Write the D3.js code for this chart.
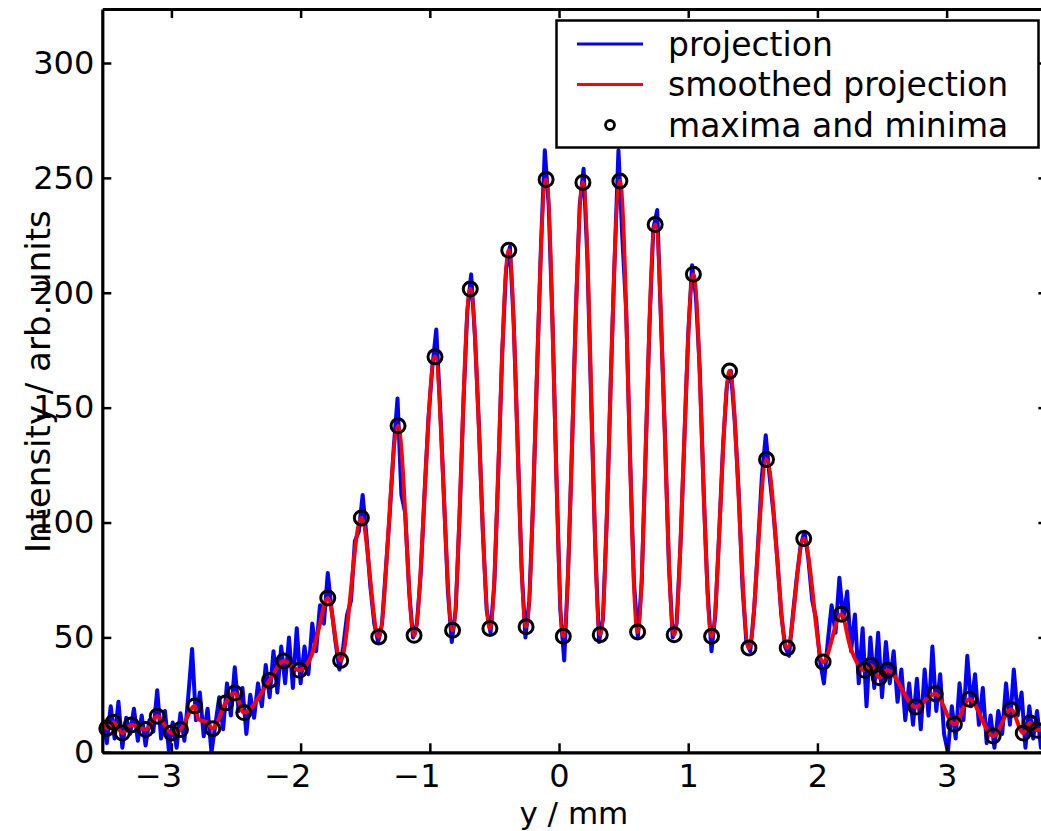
<!DOCTYPE html>
<html>
<head>
<meta charset="utf-8">
<script src="https://cdn.jsdelivr.net/npm/d3@7"></script>
<style>
  html, body { margin: 0; padding: 0; background: #fff; }
  svg { display: block; }
  text { font-family: "DejaVu Sans", sans-serif; fill: #000; }
</style>
</head>
<body>
<svg id="chart" width="1041" height="831"></svg>
<script>
// ________ data ________
// raw projection, one sample every 0.03 mm starting at -3.53 mm
const projStart = -3.53;
const projStep = 0.03;
const projection = [
	14, 4, 20, 6, 22, 2, 15, 8, 19, 5,
	16, 3, 14, 9, 27, 6, 18, 1, 13, 2,
	17, 5, 24, 45, 14, 26, 7, 19, 0, 12,
	24, 10, 30, 16, 37, 18, 28, 8, 25, 15,
	30, 20, 38, 24, 44, 26, 46, 30, 50, 28,
	54, 30, 46, 34, 56, 44, 64, 56, 78, 62,
	48, 36, 46, 60, 66, 92, 96, 112, 94, 72,
	56, 48, 56, 80, 104, 132, 154, 112, 104, 70,
	50, 56, 78, 114, 146, 168, 184, 150, 110, 70,
	48, 62, 102, 152, 192, 208, 180, 142, 96, 62,
	52, 74, 122, 174, 210, 220, 186, 134, 80, 50,
	66, 110, 166, 220, 262, 238, 186, 120, 62, 40,
	78, 132, 192, 238, 254, 214, 150, 90, 48, 58,
	102, 162, 214, 262, 224, 192, 128, 74, 50, 74,
	130, 186, 228, 236, 186, 138, 82, 50, 56, 90,
	136, 182, 212, 198, 166, 112, 70, 44, 60, 96,
	134, 160, 166, 144, 114, 72, 48, 44, 62, 90,
	120, 138, 120, 104, 84, 60, 46, 42, 60, 76,
	90, 96, 84, 66, 58, 40, 30, 48, 64, 52,
	76, 58, 70, 44, 60, 30, 54, 20, 50, 28,
	52, 24, 48, 30, 44, 22, 36, 14, 30, 12,
	32, 10, 36, 16, 46, 18, 34, 8, 0, 20,
	6, 30, 14, 42, 20, 34, 12, 28, 4, 16,
	2, 18, 8, 30, 12, 36, 16, 26, 2, 20,
	6, 18, 2, 14
];

// smoothed projection (key points of the red curve)
const smoothX = [-3.54, -3.50, -3.45, -3.38, -3.31, -3.20, -3.11, -3.00, -2.93, -2.82,
	-2.79, -2.72, -2.68, -2.58, -2.51, -2.44, -2.24, -2.13, -2.01, -1.915,
	-1.863, -1.79, -1.69, -1.53, -1.395, -1.246, -1.122, -0.960, -0.824, -0.687,
	-0.535, -0.389, -0.255, -0.100, 0.033, 0.185, 0.319, 0.471, 0.608, 0.744,
	0.891, 1.040, 1.181, 1.320, 1.470, 1.606, 1.766, 1.894, 2.044, 2.185,
	2.255, 2.365, 2.414, 2.479, 2.543, 2.762, 2.911, 3.06, 3.176, 3.36,
	3.498, 3.593, 3.645, 3.70, 3.78];
const smoothY = [15.4, 10.4, 13.1, 8.4, 11.9, 9.9, 15.7, 8.4, 9.9, 20.2,
	14.3, 13.0, 10.3, 21.5, 25.8, 17.3, 31.3, 39.7, 35.7, 42.2,
	53.0, 67.2, 40.0, 102.0, 50.2, 142.1, 50.9, 172.1, 53.1, 201.6,
	53.9, 218.5, 54.6, 249.3, 50.5, 248.0, 51.2, 248.6, 52.4, 229.7,
	51.2, 208.1, 50.5, 165.9, 45.4, 127.4, 45.4, 93.0, 39.3, 60.1,
	45.8, 35.7, 37.9, 32.5, 35.7, 19.7, 25.5, 12.2, 23.1, 7.1,
	18.6, 8.4, 12.8, 9.6, 11.0];

// maxima and minima of the smoothed projection
const extremaX = [-3.50, -3.45, -3.38, -3.31, -3.20, -3.11, -3.00, -2.93, -2.82, -2.68,
	-2.58, -2.51, -2.44, -2.24, -2.13, -2.01, -1.79, -1.69, -1.53, -1.395,
	-1.246, -1.122, -0.960, -0.824, -0.687, -0.535, -0.389, -0.255, -0.100, 0.033,
	0.185, 0.319, 0.471, 0.608, 0.744, 0.891, 1.040, 1.181, 1.320, 1.470,
	1.606, 1.766, 1.894, 2.044, 2.185, 2.365, 2.414, 2.479, 2.543, 2.762,
	2.911, 3.06, 3.176, 3.36, 3.498, 3.593, 3.645, 3.70];
const extremaY = [10.4, 13.1, 8.4, 11.9, 9.9, 15.7, 8.4, 9.9, 20.2, 10.3,
	21.5, 25.8, 17.3, 31.3, 39.7, 35.7, 67.2, 40.0, 102.0, 50.2,
	142.1, 50.9, 172.1, 53.1, 201.6, 53.9, 218.5, 54.6, 249.3, 50.5,
	248.0, 51.2, 248.6, 52.4, 229.7, 51.2, 208.1, 50.5, 165.9, 45.4,
	127.4, 45.4, 93.0, 39.3, 60.1, 35.7, 37.9, 32.5, 35.7, 19.7,
	25.5, 12.2, 23.1, 7.1, 18.6, 8.4, 12.8, 9.6];

const xTicks = [-3, -2, -1, 0, 1, 2, 3];
const yTicks = [0, 50, 100, 150, 200, 250, 300];
const legendLabels = ['projection', 'smoothed projection', 'maxima and minima'];

// ________ scales ________
const x = d3.scaleLinear().domain([-3.535, 3.78]).range([102.3, 1047.4]);
const y = d3.scaleLinear().domain([0, 323.5]).range([752.3, 9]);
const [x0, x1] = x.range();
const [y0, y1] = [y.range()[1], y.range()[0]];

const svg = d3.select('#chart');
svg.append('defs').append('clipPath')
	.attr('id', 'plot-clip')
	.append('rect')
	.attr('x', x0).attr('y', y0)
	.attr('width', x1 - x0).attr('height', y1 - y0);

// ________ marks ________
const plot = svg.append('g').attr('clip-path', 'url(#plot-clip)');

const projData = projection.map((v, i) => [projStart + i * projStep, v]);
plot.append('path')
	.datum(projData)
	.attr('d', d3.line().x(d => x(d[0])).y(d => y(d[1])))
	.attr('fill', 'none')
	.attr('stroke', '#0000ff')
	.attr('stroke-width', 4)
	.attr('stroke-linejoin', 'round');

const smoothData = smoothX.map((v, i) => [v, smoothY[i]]);
plot.append('path')
	.datum(smoothData)
	.attr('d', d3.line().x(d => x(d[0])).y(d => y(d[1])).curve(d3.curveMonotoneX))
	.attr('fill', 'none')
	.attr('stroke', '#ff0000')
	.attr('stroke-width', 4)
	.attr('stroke-linejoin', 'round');

svg.append('g')
	.selectAll('circle')
	.data(extremaX.map((v, i) => [v, extremaY[i]]))
	.join('circle')
	.attr('cx', d => x(d[0]))
	.attr('cy', d => y(d[1]))
	.attr('r', 7)
	.attr('fill', 'none')
	.attr('stroke', '#000')
	.attr('stroke-width', 3);

// ________ axes ________
const styleAxis = g => {
	g.select('.domain').attr('stroke-width', 3.2);
	g.selectAll('.tick line').attr('stroke-width', 2.5);
	g.selectAll('.tick text').attr('font-size', 32).attr('font-family', '"DejaVu Sans", sans-serif').attr('fill', '#000');
};

// digits centred on the tick, a minus sign hangs to the left (as in the original)
svg.append('g')
	.attr('transform', `translate(0,${y1})`)
	.call(d3.axisBottom(x).tickValues(xTicks).tickSize(-9).tickSizeOuter(0)
		.tickFormat(d => (d < 0 ? '\u2212' : '') + Math.abs(d)))
	.call(styleAxis)
	.call(g => g.selectAll('.tick text')
		.attr('text-anchor', 'end')
		.attr('x', 10.2)
		.attr('y', 35)
		.attr('dy', null));

svg.append('g')
	.attr('transform', `translate(0,${y0})`)
	.call(d3.axisTop(x).tickValues(xTicks).tickSize(-9).tickSizeOuter(0).tickFormat(''))
	.call(styleAxis);

svg.append('g')
	.attr('transform', `translate(${x0},0)`)
	.call(d3.axisLeft(y).tickValues(yTicks).tickSize(-9).tickSizeOuter(0).tickPadding(8))
	.call(styleAxis);

svg.append('g')
	.attr('transform', `translate(${x1},0)`)
	.call(d3.axisRight(y).tickValues(yTicks).tickSize(-9).tickSizeOuter(0).tickFormat(''))
	.call(styleAxis);

svg.append('text')
	.attr('x', (x0 + x1) / 2 - 1)
	.attr('y', 823.5)
	.attr('text-anchor', 'middle')
	.attr('font-size', 31)
	.text('y / mm');

svg.append('text')
	.attr('transform', `translate(50,${(y0 + y1) / 2 + 1}) rotate(-90)`)
	.attr('text-anchor', 'middle')
	.attr('font-size', 34)
	.text('Intensity / arb. units');

// ________ legend ________
const legend = svg.append('g');
legend.append('rect')
	.attr('x', 556.5).attr('y', 20.5)
	.attr('width', 482).attr('height', 127)
	.attr('fill', '#fff')
	.attr('stroke', '#000')
	.attr('stroke-width', 2.5);

const rows = legend.selectAll('g.row')
	.data(legendLabels)
	.join('g')
	.attr('class', 'row')
	.attr('transform', (d, i) => `translate(0,${44 + i * 40.5})`);

rows.filter((d, i) => i < 2)
	.append('line')
	.attr('x1', 577).attr('x2', 643)
	.attr('stroke', (d, i) => i === 0 ? '#0000ff' : '#ff0000')
	.attr('stroke-width', 3);

rows.filter((d, i) => i === 2)
	.append('circle')
	.attr('cx', 610).attr('r', 4.5)
	.attr('fill', 'none')
	.attr('stroke', '#000')
	.attr('stroke-width', 2.8);

rows.append('text')
	.attr('x', 668)
	.attr('dy', '0.35em')
	.attr('font-size', 33)
	.text(d => d);
</script>
</body>
</html>
